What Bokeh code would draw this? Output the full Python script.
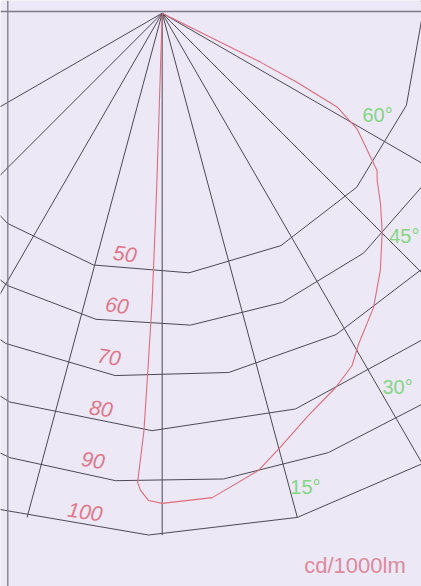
import numpy as np
from bokeh.plotting import figure
from bokeh.models import Range1d, Span, Label
from bokeh.core.properties import value
from bokeh.embed import file_html
from bokeh.resources import INLINE

# ---------------- data ----------------
ring_values = [50, 60, 70, 80, 90, 100]
ring_labels = ["50", "60", "70", "80", "90", "100"]
ray_angles = [-60, -45, -30, -15, 0, 15, 30, 45, 60]
angle_label_angles = [60, 45, 30, 15]
angle_labels = ["60°", "45°", "30°", "15°"]
unit_label = "cd/1000lm"

# luminous intensity curve (angle from nadir in degrees, cd/1000lm)
curve_angle = [64.0, 63.5, 62.9, 61.8, 59.3, 55.8, 53.8, 52.1, 48.9, 45.1, 40.3,
               35.7, 30.7, 28.3, 24.9, 19.7, 15.2, 11.9, 5.9, 0.0, -1.6, -2.6,
               -3.0, -2.5, -2.3, -2.0, -1.85, -1.8, -1.5]
curve_intensity = [0.0, 21.0, 29.0, 38.0, 43.4, 47.9, 51.0, 52.2, 55.5, 59.5, 64.6,
                   69.4, 73.7, 76.7, 79.0, 82.2, 86.2, 89.5, 93.3, 93.9, 93.4, 91.5,
                   90.0, 80.0, 68.5, 55.1, 39.7, 30.2, 0.0]

# ---------------- layout / style ----------------
PX = 5.22            # pixels per cd/1000lm
W, H = 421, 586
OX, OY = 161.7, 12.7  # pole position in canvas pixels (from left / from top)
ring_phase = [5.9, 5.2, 10.5, -1.4, 7.5, -1.5]     # polygonal arc vertex phase (deg)
ring_step = [21.15, 17.4, 17.9, 20.0, 13.2, 16.5]  # polygonal arc vertex step (deg)
ring_label_angle = -8.8
ring_label_inset = 3.3
angle_label_offset = [4.8, 2.4, 2.2, 1.8]
angle_label_radius = [45.6, 63.0, 84.6, 94.9]

BG = "#ECE8F6"
GRID = "#4C4A55"
FRAME = "#7E7A8A"
RED = "#DE6C7A"
LABEL_RED = "#E07689"
GREEN = "#84D684"
UNIT = "#DC8A9C"


def polar(theta_deg, r):
    t = np.radians(np.asarray(theta_deg, dtype=float))
    r = np.asarray(r, dtype=float)
    return r * np.sin(t), -r * np.cos(t)


x0 = -OX / PX
x1 = (W - OX) / PX
y1 = OY / PX
y0 = -(H - OY) / PX

p = figure(width=W, height=H, output_backend="svg", toolbar_location=None,
           x_range=Range1d(x0, x1), y_range=Range1d(y0, y1),
           x_axis_location=None, y_axis_location=None, min_border=0,
           background_fill_color=BG, border_fill_color=BG, outline_line_color=None)
p.grid.visible = False

# frame lines (left and top)
p.add_layout(Span(location=x0 + 7.3 / PX, dimension="height", line_color=FRAME, line_width=1.3))
p.add_layout(Span(location=(OY - 11.0) / PX, dimension="width", line_color=FRAME, line_width=1.3))

# rays
rmax = max(ring_values)
rx, ry = polar(ray_angles, [rmax] * len(ray_angles))
p.segment(x0=[0] * len(ray_angles), y0=[0] * len(ray_angles), x1=rx, y1=ry,
          line_color=GRID, line_width=1)

# polygonal rings
xs, ys = [], []
for v, ph, st in zip(ring_values, ring_phase, ring_step):
    k0 = int(np.floor((-100 - ph) / st))
    k1 = int(np.ceil((100 - ph) / st))
    angs = [ph + st * k for k in range(k0, k1 + 1)]
    ax, ay = polar(angs, [v] * len(angs))
    xs.append(list(ax))
    ys.append(list(ay))
p.multi_line(xs=xs, ys=ys, line_color=GRID, line_width=1)

# intensity curve
cx, cy = polar(curve_angle, curve_intensity)
p.line(x=cx, y=cy, line_color=RED, line_width=1.1)

# ring value labels
lx, ly = polar([ring_label_angle] * len(ring_values), np.array(ring_values) - ring_label_inset)
p.text(x=lx, y=ly, text=ring_labels, angle=np.radians(-8), text_font=value("Liberation Sans"),
       text_font_style="italic", text_font_size="21px", text_color=LABEL_RED,
       text_align="center", text_baseline="middle")

# angle labels
gx, gy = polar(np.array(angle_label_angles) + np.array(angle_label_offset), angle_label_radius)
p.text(x=gx, y=gy, text=angle_labels, text_font=value("Liberation Sans"),
       text_font_size="20px", text_color=GREEN, text_align="center", text_baseline="middle")

# unit label
p.add_layout(Label(x=354.5, y=H - 565, x_units="screen", y_units="screen", text=unit_label,
                   text_font="Liberation Sans", text_font_size="22px", text_color=UNIT,
                   text_align="center", text_baseline="middle"))

open("out.html", "w").write(file_html(p, INLINE))
